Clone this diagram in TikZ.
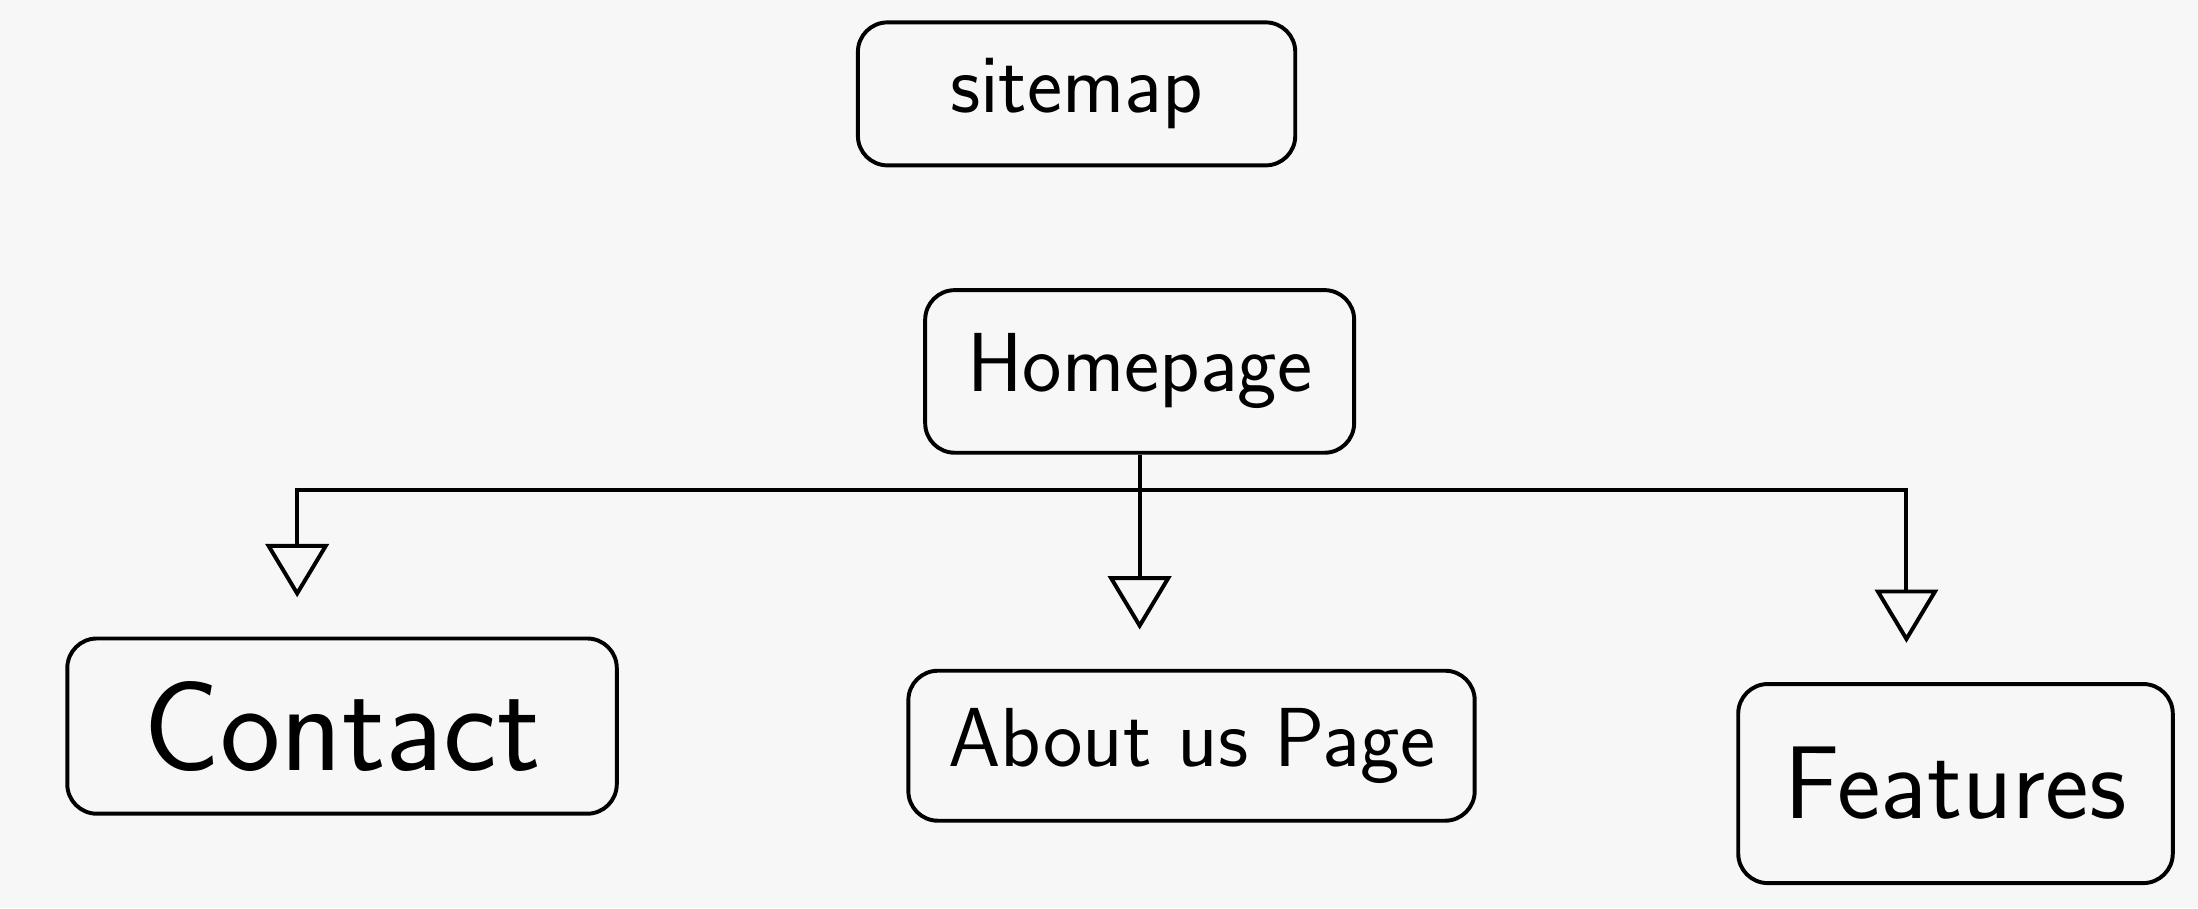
\documentclass[tikz,border=0pt]{standalone}
\usepackage{tikz}
\usetikzlibrary{calc,arrows.meta}
\definecolor{paper}{HTML}{F7F7F7}

\begin{document}
\begin{tikzpicture}[
        pagebox/.style={draw, line width=0.8pt, rounded corners=6pt, font=\sffamily, inner sep=0pt},
        link/.style={line width=0.8pt, -{Triangle[open,length=0.38cm,width=0.45cm,line width=0.8pt]}, shorten >=0.28cm}
    ]
                \fill[paper] (0,0) rectangle (15.68,6.48);
                \useasboundingbox (0,0) rectangle (15.68,6.48);

                \node[pagebox, minimum width=3.12cm, minimum height=1.02cm, font=\sffamily\fontsize{17}{20}\selectfont] (sitemap) at (7.68,5.81) {sitemap};

                \node[pagebox, minimum width=3.06cm, minimum height=1.16cm, font=\sffamily\fontsize{17}{20}\selectfont] (homepage) at (8.13,3.83) {Homepage};

                \node[pagebox, minimum width=3.92cm, minimum height=1.25cm, font=\sffamily\fontsize{26}{30}\selectfont] (contact) at (2.44,1.30) {Contact};
                \node[pagebox, minimum width=4.04cm, minimum height=1.07cm, font=\sffamily\fontsize{17}{20}\selectfont] (about) at (8.50,1.16) {About us Page};
                \node[pagebox, minimum width=3.10cm, minimum height=1.42cm, font=\sffamily\fontsize{21}{24}\selectfont] (features) at (13.95,0.89) {Features};

                \coordinate (bus) at ($(homepage.south)+(0,-0.25)$);

                \draw[link] (homepage.south) -- (homepage.south |- about.north);
                \draw[link] (bus) -| ([xshift=-0.32cm]contact.north);
                \draw[link] (bus) -| ([xshift=-0.35cm]features.north);

\end{tikzpicture}
\end{document}
